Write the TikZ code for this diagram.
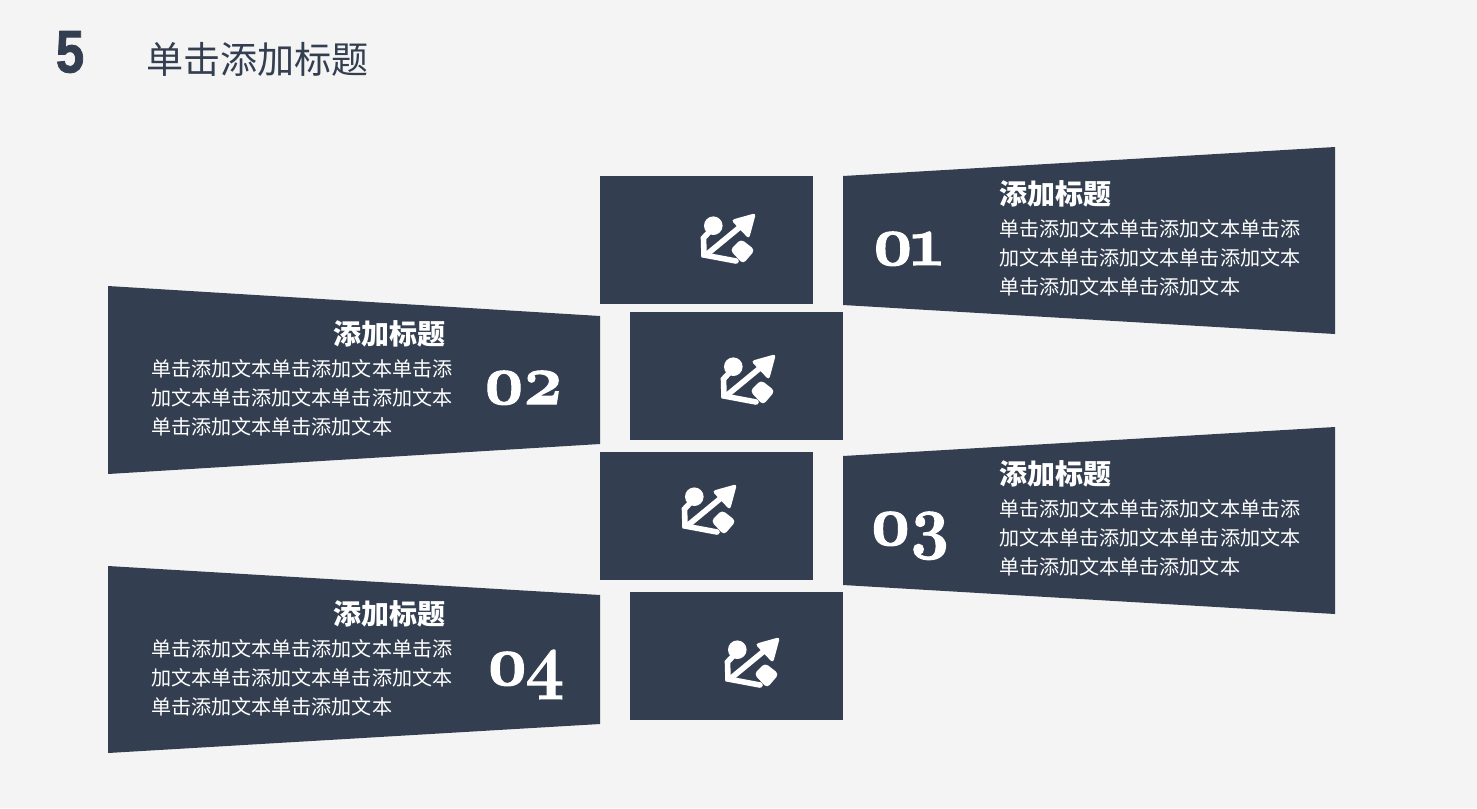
\documentclass[tikz,border=0pt]{standalone}
\usepackage{fontspec}
\newfontfamily\cjk{Noto Sans CJK SC}
\newfontfamily\heavy[FakeBold=1.5]{Liberation Sans}
\newfontfamily\numf[Numbers=OldStyle,FakeBold=1.5]{Latin Modern Roman}
\definecolor{slate}{HTML}{333F50}
\definecolor{paper}{HTML}{F4F4F4}
\tikzset{
  box/.style={fill=slate,draw=none},
  head/.style={text=white,inner sep=0pt,anchor=center,font=\cjk\bfseries\fontsize{21pt}{24pt}\selectfont},
  body/.style={text=white,inner sep=0pt,anchor=north west,align=left,font=\cjk\fontsize{15.05pt}{22pt}\selectfont},
  num/.style={text=white,inner sep=0pt,anchor=base},
  pics/share/.style={code={
    \fill[white] (-14.7,-14.3) circle (9.3);
    \draw[white,line width=4.2pt,line join=miter,line cap=round] (-17,-10) -- (-24.5,-2) -- (-24,15) -- (8,21);
    \draw[white,line width=4.2pt,line cap=round] (-22,15) -- (12,-13);
    \fill[white,rounded corners=2.5pt] (3,-20) -- (28,-27) -- (21,-1) -- cycle;
    \fill[white,rounded corners=3pt] (13,-1) -- (27,10) -- (15,24) -- (2,10) -- cycle;
  }}
}
\newcommand{\bodytext}{单击添加文本单击添加文本单击添\\加文本单击添加文本单击添加文本\\单击添加文本单击添加文本}
\newcommand{\numtext}[2]{\scalebox{0.95}[1]{\fontsize{54pt}{54pt}\selectfont\numf\bfseries #1\kern-3.5pt #2}}
\begin{document}
\begin{tikzpicture}[x=0.75pt,y=-0.75pt]
\path[use as bounding box,fill=paper] (0,0) rectangle (1477,808);
\node[inner sep=0pt,text=slate] (five) at (70,52) {\scalebox{0.85}[1]{\fontsize{45pt}{45pt}\selectfont\heavy\bfseries 5}};
\node[inner sep=0pt,text=slate,anchor=west] (title) at (146,59) {\cjk\fontsize{27.8pt}{30pt}\selectfont 单击添加标题};

\fill[box] (600,176) rectangle (813,304);
\fill[box] (630,312) rectangle (843,440);
\fill[box] (600,452) rectangle (813,580);
\fill[box] (630,592) rectangle (843,720);

\fill[box] (843,176) -- (1335,147) -- (1335,334) -- (843,305) -- cycle;
\fill[box] (843,456) -- (1335,427) -- (1335,614) -- (843,585) -- cycle;
\fill[box] (108,286) -- (600,316) -- (600,444) -- (108,474) -- cycle;
\fill[box] (108,566) -- (600,595) -- (600,724) -- (108,753) -- cycle;

\pic at (728,240) {share};
\pic at (748,381) {share};
\pic at (709,511) {share};
\pic at (752,664) {share};

\node[num] (n1) at (907,265) {\numtext{0}{1}};
\node[num] (n2) at (523,404) {\numtext{0}{2}};
\node[num] (n3) at (910,545) {\numtext{0}{3}};
\node[num] (n4) at (525,685) {\numtext{0}{4}};

\node[head] (h1) at (1055,194) {添加标题};
\node[head] (h2) at (389,334) {添加标题};
\node[head] (h3) at (1055,474) {添加标题};
\node[head] (h4) at (389,614) {添加标题};

\node[body] (b1) at (999,219) {\bodytext};
\node[body] (b2) at (151,359) {\bodytext};
\node[body] (b3) at (999,499) {\bodytext};
\node[body] (b4) at (151,639) {\bodytext};
\end{tikzpicture}
\end{document}
